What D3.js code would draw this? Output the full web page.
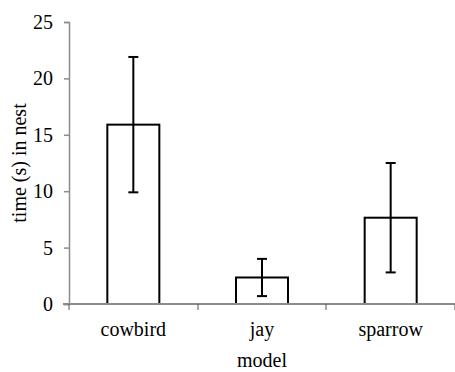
<!DOCTYPE html>
<html>
<head>
<meta charset="utf-8">
<script src="https://cdn.jsdelivr.net/npm/d3@7"></script>
<style>
  body { margin: 0; background: #fff; }
</style>
</head>
<body>
<div id="container"></div>
<script>
/* DATA */
const models = ["cowbird", "jay", "sparrow"];
const means = [15.9, 2.35, 7.65];
const upper = [21.9, 4.0, 12.5];
const lower = [9.9, 0.7, 2.8];
const yTicks = [0, 5, 10, 15, 20, 25];

/* CONSTANTS */
const width = 455,
  height = 372,
  margin = { top: 22, bottom: 68, left: 69, right: 0 };
const fontFam = "'Liberation Serif', 'Times New Roman', 'DejaVu Serif', serif",
  fontSize = 20;

const data = models.map((m, i) => ({ model: m, mean: means[i], hi: upper[i], lo: lower[i] }));

/* SCALES */
const xScale = d3.scaleBand()
  .domain(models)
  .range([margin.left, width - margin.right])
  .paddingInner(0)
  .paddingOuter(0);

const yScale = d3.scaleLinear()
  .domain([0, 25])
  .range([height - margin.bottom, margin.top]);

/* SVG */
const svg = d3.select("#container")
  .append("svg")
  .attr("width", width)
  .attr("height", height)
  .style("font-family", fontFam)
  .style("font-size", fontSize + "px");

const axisColor = "#8c8c8c";

// y axis
const yAxis = svg.append("g")
  .attr("transform", `translate(${margin.left}, 0)`)
  .call(d3.axisLeft(yScale).tickValues(yTicks).tickSize(5).tickPadding(11));
yAxis.attr("font-family", null).attr("font-size", null);
yAxis.select(".domain").attr("stroke", axisColor).attr("stroke-width", 1.5);
yAxis.selectAll(".tick line").attr("stroke", axisColor).attr("stroke-width", 1.5);
yAxis.selectAll(".tick text").attr("fill", "#000");

// bars
const barW = 52;
svg.selectAll(".bar")
  .data(data)
  .join("rect")
  .attr("class", "bar")
  .attr("x", d => xScale(d.model) + xScale.bandwidth() / 2 - barW / 2)
  .attr("y", d => yScale(d.mean))
  .attr("width", barW)
  .attr("height", d => yScale(0) - yScale(d.mean))
  .attr("fill", "#fff")
  .attr("stroke", "#000")
  .attr("stroke-width", 2);

// x axis (drawn after bars so the baseline sits on top)
const xAxisG = svg.append("g")
  .attr("transform", `translate(0, ${yScale(0)})`);
xAxisG.append("line")
  .attr("x1", margin.left - 6)
  .attr("x2", width - margin.right)
  .attr("stroke", axisColor)
  .attr("stroke-width", 2);
const bounds = models.map(m => xScale(m)).concat([xScale(models[models.length - 1]) + xScale.bandwidth()]);
xAxisG.selectAll(".xtick")
  .data(bounds)
  .join("line")
  .attr("class", "xtick")
  .attr("x1", d => Math.round(d))
  .attr("x2", d => Math.round(d))
  .attr("y1", 0)
  .attr("y2", 6)
  .attr("stroke", "#555")
  .attr("stroke-width", 1);
xAxisG.selectAll(".xlabel")
  .data(models)
  .join("text")
  .attr("class", "xlabel")
  .attr("x", d => xScale(d) + xScale.bandwidth() / 2)
  .attr("y", 32)
  .attr("text-anchor", "middle")
  .text(d => d);

// error bars
const capW = 10;
const err = svg.selectAll(".err")
  .data(data)
  .join("g")
  .attr("class", "err")
  .attr("stroke", "#000")
  .attr("stroke-width", 2);
err.append("line")
  .attr("x1", d => xScale(d.model) + xScale.bandwidth() / 2)
  .attr("x2", d => xScale(d.model) + xScale.bandwidth() / 2)
  .attr("y1", d => yScale(d.hi))
  .attr("y2", d => yScale(d.lo));
err.append("line")
  .attr("x1", d => xScale(d.model) + xScale.bandwidth() / 2 - capW / 2)
  .attr("x2", d => xScale(d.model) + xScale.bandwidth() / 2 + capW / 2)
  .attr("y1", d => yScale(d.hi))
  .attr("y2", d => yScale(d.hi));
err.append("line")
  .attr("x1", d => xScale(d.model) + xScale.bandwidth() / 2 - capW / 2)
  .attr("x2", d => xScale(d.model) + xScale.bandwidth() / 2 + capW / 2)
  .attr("y1", d => yScale(d.lo))
  .attr("y2", d => yScale(d.lo));

// axis titles
svg.append("text")
  .attr("x", (margin.left + width) / 2)
  .attr("y", 367)
  .attr("text-anchor", "middle")
  .text("model");

svg.append("text")
  .attr("transform", `translate(26, ${(yScale(0) + yScale(25)) / 2}) rotate(-90)`)
  .attr("text-anchor", "middle")
  .text("time (s) in nest");
</script>
</body>
</html>
